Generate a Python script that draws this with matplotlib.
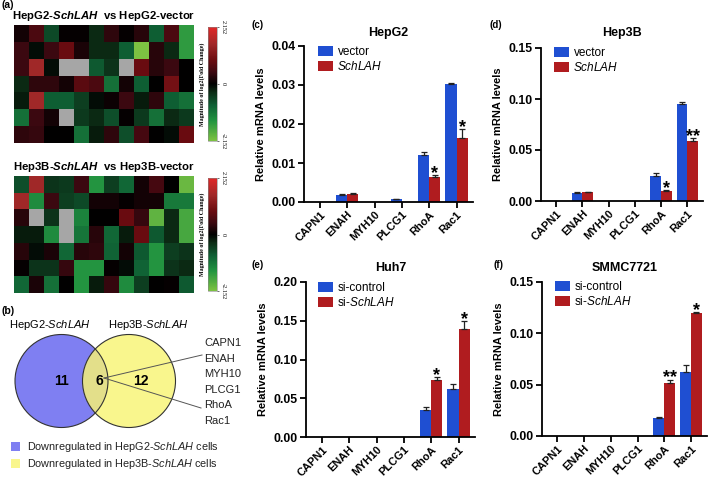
import numpy as np
import matplotlib
matplotlib.use('Agg')
import matplotlib.pyplot as plt
from matplotlib.colors import LinearSegmentedColormap
from matplotlib.patches import Circle, Rectangle

plt.rcParams['font.family'] = ['Liberation Sans', 'DejaVu Sans']
plt.rcParams['mathtext.fontset'] = 'custom'
plt.rcParams['mathtext.rm'] = 'Liberation Sans'
plt.rcParams['mathtext.it'] = 'Liberation Sans:italic'
plt.rcParams['mathtext.bf'] = 'Liberation Sans:bold:italic'

# ---------------- data ----------------
nan = np.nan
heat_hepg2 = [
    [0.15, 0.6, -0.6, 0.05, 0.05, -0.3, 0.35, 0.05, 0.3, -0.8, 0.6, -1.5],
    [0.45, -0.1, 0.45, 0.9, 0.2, -0.3, -0.3, -0.8, -2.15, 0.3, -0.3, -1.5],
    [0.45, 1.5, -0.1, nan, nan, -0.75, -0.4, nan, 0.9, 0.3, 0.45, 0.0],
    [-0.3, 0.35, 0.35, 0.15, 0.75, 0.6, -1.0, 0.15, -0.8, 0.0, 1.0, 0.0],
    [-0.2, 1.5, -0.8, -0.8, -0.5, -0.1, 0.1, 0.45, -0.2, 0.35, -0.8, -1.0],
    [-1.0, 0.45, 0.15, nan, -0.45, -0.3, -0.65, 0.05, -0.45, -1.0, -0.3, -0.45],
    [0.35, 0.4, 0.0, 0.0, -1.0, -0.2, 0.35, -0.65, 0.55, 0.0, -0.1, 0.9],
]
heat_hep3b = [
    [-0.65, 1.5, -0.4, -0.45, 0.45, -1.4, -0.5, -0.9, 0.15, 0.55, 0.0, -2.0],
    [1.5, -1.3, 0.45, -0.5, -0.6, 0.15, 0.15, 0.05, 0.15, 0.15, -1.1, -1.1],
    [0.3, nan, -0.4, nan, -1.2, 0.0, 0.0, 0.9, 0.4, -1.9, -0.3, -1.7],
    [-0.2, -0.2, -1.3, nan, -1.05, 0.3, -0.9, -0.2, 0.9, -0.75, -0.3, -1.7],
    [0.3, -0.1, 0.2, -0.9, 0.3, 0.35, -0.85, 0.15, -0.75, -1.4, -0.5, -0.4],
    [0.05, -0.4, -0.4, 0.4, -1.4, -1.4, 0.05, -0.1, -0.85, -1.4, -0.4, -0.3],
    [-0.9, 0.2, -1.0, 0.0, -1.4, -0.2, 0.4, -1.3, -0.5, 0.0, 0.05, -0.75],
]
heat_limit = 2.152

venn_only_hepg2 = 11
venn_shared = 6
venn_only_hep3b = 12
shared_genes = ['CAPN1', 'ENAH', 'MYH10', 'PLCG1', 'RhoA', 'Rac1']

genes = ['CAPN1', 'ENAH', 'MYH10', 'PLCG1', 'RhoA', 'Rac1']

hepg2_vector = [0.0, 0.0018, 0.0, 0.0007, 0.0120, 0.0303]
hepg2_vector_err = [0.0, 0.0002, 0.0, 0.0001, 0.0008, 0.0003]
hepg2_schlah = [0.0, 0.0020, 0.0, 0.0001, 0.0065, 0.0165]
hepg2_schlah_err = [0.0, 0.0002, 0.0, 0.0, 0.0005, 0.0022]
hepg2_stars = ['', '', '', '', '*', '*']

hep3b_vector = [0.0, 0.0080, 0.0, 0.0, 0.0250, 0.0955]
hep3b_vector_err = [0.0, 0.0005, 0.0, 0.0, 0.0020, 0.0015]
hep3b_schlah = [0.0, 0.0085, 0.0, 0.0, 0.0100, 0.0585]
hep3b_schlah_err = [0.0, 0.0005, 0.0, 0.0, 0.0010, 0.0030]
hep3b_stars = ['', '', '', '', '*', '**']

huh7_control = [0.0, 0.0, 0.0, 0.0, 0.035, 0.062]
huh7_control_err = [0.0, 0.0, 0.0, 0.0, 0.004, 0.006]
huh7_si = [0.0, 0.0, 0.0, 0.0, 0.074, 0.140]
huh7_si_err = [0.0, 0.0, 0.0, 0.0, 0.003, 0.010]
huh7_stars = ['', '', '', '', '*', '*']

smmc_control = [0.0, 0.0003, 0.0, 0.0, 0.018, 0.062]
smmc_control_err = [0.0, 0.0, 0.0, 0.0, 0.0005, 0.007]
smmc_si = [0.0, 0.0003, 0.0, 0.0003, 0.052, 0.120]
smmc_si_err = [0.0, 0.0, 0.0, 0.0, 0.003, 0.0005]
smmc_stars = ['', '', '', '', '**', '*']

# ---------------- figure ----------------
W, H = 709, 479
fig = plt.figure(figsize=(W / 100, H / 100), dpi=100)


def px_axes(l, t, r, b):
    return fig.add_axes([l / W, 1 - b / H, (r - l) / W, (b - t) / H])


def fx(x):
    return x / W


def fy(y):
    return 1 - y / H


BLUE = '#1f4fd2'
RED = '#b01c1f'

cmap = LinearSegmentedColormap.from_list('gbr', [
    (0.0, '#7dc242'), (0.175, '#229440'), (0.31, '#0f6035'), (0.43, '#0c2a14'),
    (0.5, '#000000'), (0.6, '#3a0810'), (0.71, '#6a0c10'), (0.85, '#a02828'),
    (1.0, '#e02828')])
cmap.set_bad('#a6a6a6')

# ---- panel (a) ----
fig.text(fx(1), fy(0.5), '(a)', fontsize=7.5, fontweight='bold', va='top', ha='left')


def heat_panel(data, top, bottom, title):
    ax = px_axes(14, top, 193, bottom)
    im = ax.imshow(np.array(data, dtype=float), cmap=cmap, vmin=-heat_limit, vmax=heat_limit,
                   aspect='auto', interpolation='nearest')
    ax.set_xticks([])
    ax.set_yticks([])
    for s in ax.spines.values():
        s.set_visible(False)
    fig.text(fx(104), fy(top - 9), title, fontsize=8.2, fontweight='bold', ha='center', va='center')
    cax = px_axes(208, top + 2, 217, bottom - 2)
    cb = fig.colorbar(im, cax=cax, ticks=[-heat_limit, 0, heat_limit])
    cb.outline.set_linewidth(0.4)
    cb.outline.set_edgecolor('#888888')
    cax.tick_params(length=1.5, width=0.4, pad=1)
    cax.set_yticklabels(['-2.152', '0', '2.152'], rotation=270, va='center',
                        fontsize=4.5, family='Liberation Serif')
    cax.yaxis.set_label_position('left')
    cax.set_ylabel('Magnitude of log2(Fold Change)', fontsize=4.3, family='Liberation Serif',
                   fontweight='bold', labelpad=2)


heat_panel(heat_hepg2, 25, 143, r'HepG2-$\mathbf{SchLAH}$  vs HepG2-vector')
heat_panel(heat_hep3b, 176, 293, r'Hep3B-$\mathbf{SchLAH}$  vs Hep3B-vector')

# ---- panel (b) venn ----
fig.text(fx(2), fy(306), '(b)', fontsize=7.5, fontweight='bold', va='top', ha='left')
vax = px_axes(0, 300, 240, 479)
vax.set_xlim(0, 240)
vax.set_ylim(479, 300)
vax.axis('off')
c_blue = (61.5, 381.0)
c_yel = (129.0, 381.0)
r = 46.5
vax.add_patch(Circle(c_blue, r, facecolor='#7f7ff2', edgecolor='none'))
vax.add_patch(Circle(c_yel, r, facecolor='#f9f68d', edgecolor='none'))
ov = Circle(c_yel, r, facecolor='#e3df8a', edgecolor='none')
vax.add_patch(ov)
ov.set_clip_path(Circle(c_blue, r, facecolor='none', transform=vax.transData))
vax.add_patch(Circle(c_blue, r, facecolor='none', edgecolor='#333333', lw=0.8))
vax.add_patch(Circle(c_yel, r, facecolor='none', edgecolor='#333333', lw=0.8))
vax.text(62, 381, str(venn_only_hepg2), fontsize=10, fontweight='bold', ha='center', va='center')
vax.text(99.5, 381, str(venn_shared), fontsize=10, fontweight='bold', ha='center', va='center')
vax.text(141, 381, str(venn_only_hep3b), fontsize=10, fontweight='bold', ha='center', va='center')
vax.text(50, 325, r'HepG2-$\mathit{SchLAH}$', fontsize=8, ha='center', va='center')
vax.text(148, 325, r'Hep3B-$\mathit{SchLAH}$', fontsize=8, ha='center', va='center')
gy0, gdy = 343.5, 15.5
for i, g in enumerate(shared_genes):
    vax.text(204, gy0 + i * gdy, g, fontsize=8, ha='left', va='center', color='#222222')
vax.plot([104, 202], [378, 355], color='#555555', lw=0.7)
vax.plot([104, 201], [378, 408], color='#555555', lw=0.7)
vax.add_patch(Rectangle((11, 442.5), 9, 9, facecolor='#7f7ff2', edgecolor='none'))
vax.add_patch(Rectangle((11, 459.5), 9, 9, facecolor='#f9f68d', edgecolor='none'))
vax.text(27, 447.5, r'Downregulated in HepG2-$\mathit{SchLAH}$ cells', fontsize=7.8, va='center', color='#222222')
vax.text(27, 464.5, r'Downregulated in Hep3B-$\mathit{SchLAH}$ cells', fontsize=7.8, va='center', color='#222222')


# ---- bar panels ----
def bar_panel(box, plabel, plabel_xy, title, title_y, lab1, v1, e1, lab2, v2, e2, stars, ymax, step, leg_xy):
    l, t, rr, b = box
    ax = px_axes(l, t, rr, b)
    x = np.arange(len(genes))
    w = 0.41
    ax.bar(x - w / 2, v1, w, color=BLUE, label=lab1)
    ax.bar(x + w / 2, v2, w, color=RED, label=lab2)
    for xs, vv, ee in ((x - w / 2, v1, e1), (x + w / 2, v2, e2)):
        vv = np.array(vv)
        ee = np.array(ee)
        m = ee > 0
        ax.errorbar(xs[m], vv[m], yerr=[np.zeros(m.sum()), ee[m]], fmt='none',
                    ecolor='#222222', elinewidth=0.9, capsize=2.2, capthick=0.9)
    for i, s in enumerate(stars):
        if s:
            top = v2[i] + e2[i]
            ax.annotate(s, (x[i] + w / 2, top), xytext=(0, -5), textcoords='offset points',
                        ha='center', va='bottom', fontsize=13, fontweight='bold')
    ax.set_xlim(-0.58, 5.6)
    ax.set_ylim(0, ymax)
    ticks = np.arange(0, ymax + step / 2, step)
    ax.set_yticks(ticks)
    ax.set_yticklabels(['%.2f' % v for v in ticks], fontsize=8.8, fontweight='bold')
    ax.set_xticks(x)
    ax.set_xticklabels(genes, rotation=45, ha='right', rotation_mode='anchor',
                       fontsize=7.9, fontweight='bold')
    ax.spines['top'].set_visible(False)
    ax.spines['right'].set_visible(False)
    ax.spines['left'].set_linewidth(1.3)
    ax.spines['bottom'].set_linewidth(1.3)
    ax.tick_params(axis='both', width=1.3, length=4, pad=2)
    ax.tick_params(axis='x', pad=1.5)
    ax.set_ylabel('Relative mRNA levels', fontsize=8, fontweight='bold', labelpad=4)
    fig.text(fx((l + rr) / 2), fy(title_y), title, fontsize=9, fontweight='bold', ha='center', va='center')
    fig.text(fx(plabel_xy[0]), fy(plabel_xy[1]), plabel, fontsize=7, fontweight='bold', ha='center', va='center')
    ax.legend(loc='upper left', bbox_to_anchor=(fx(leg_xy[0]), fy(leg_xy[1])),
              bbox_transform=fig.transFigure, frameon=False, fontsize=8.5,
              handlelength=1.25, handleheight=0.9, handletextpad=0.4, labelspacing=0.15,
              borderpad=0, borderaxespad=0)
    return ax


bar_panel((304, 46, 473, 202), '(c)', (258, 25), 'HepG2', 33, 'vector', hepg2_vector, hepg2_vector_err,
          r'$\mathit{SchLAH}$', hepg2_schlah, hepg2_schlah_err, hepg2_stars, 0.04, 0.01, (318, 46))
bar_panel((541, 48, 703, 201), '(d)', (496, 25), 'Hep3B', 33, 'vector', hep3b_vector, hep3b_vector_err,
          r'$\mathit{SchLAH}$', hep3b_schlah, hep3b_schlah_err, hep3b_stars, 0.15, 0.05, (554, 47))
bar_panel((306, 282, 475, 437), '(e)', (258, 265), 'Huh7', 268, 'si-control', huh7_control, huh7_control_err,
          r'si-$\mathit{SchLAH}$', huh7_si, huh7_si_err, huh7_stars, 0.20, 0.05, (318, 282))
bar_panel((542, 282, 707, 436), '(f)', (499, 265), 'SMMC7721', 268, 'si-control', smmc_control, smmc_control_err,
          r'si-$\mathit{SchLAH}$', smmc_si, smmc_si_err, smmc_stars, 0.15, 0.05, (555, 281))

fig.savefig('out.png', dpi=100)
